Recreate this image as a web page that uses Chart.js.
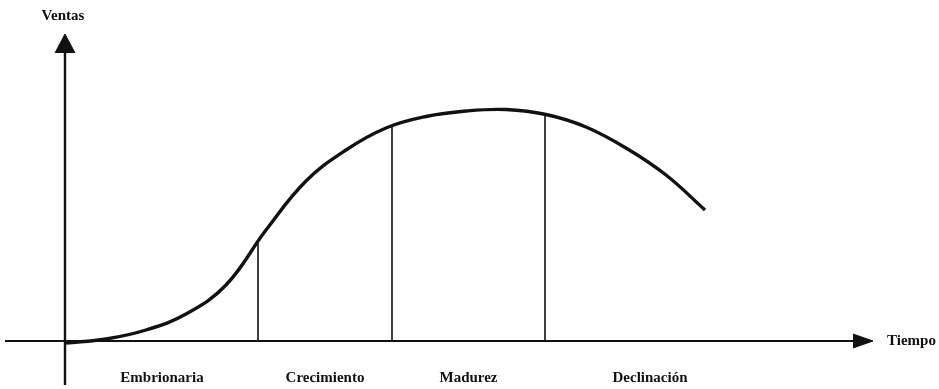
<!DOCTYPE html>
<html>
<head>
<meta charset="utf-8">
<script src="https://cdn.jsdelivr.net/npm/chart.js@4/dist/chart.umd.min.js"></script>
<style>
  html, body { margin: 0; padding: 0; background: #fff; }
  #wrap { width: 939px; height: 389px; }
</style>
</head>
<body>
<div id="wrap"><canvas id="grafico" width="939" height="389"></canvas></div>
<script>
// curva del ciclo de vida (tiempo, ventas)
const tiempo = [0, 40, 80, 120, 160, 200, 240, 280, 320, 360, 400, 440, 480, 520, 560, 600, 639];
const ventas = [-2, 2, 11, 27, 56, 111, 160, 191, 213, 224.5, 230, 231.5, 226.5, 214, 193, 166, 131];

// limites de las etapas y altura de la curva en cada limite
const limites = [0, 192, 326, 479, 689];
const alturaLimite = [99, 215, 227];
const etapas = ['Embrionaria', 'Crecimiento', 'Madurez', 'Declinación'];

// ejes
const ejeY = [-44, 288];
const ejeX = [-61, 787];
const flechaY = [[-11, 288], [-1, 307], [9, 288]];
const flechaX = [[787, 7], [807, 0], [787, -7]];

const tituloY = 'Ventas';
const tituloX = 'Tiempo';

function puntos(xs, ys) {
    return xs.map((x, i) => ({x: x, y: ys[i]}));
}

const datasets = [];

// curva
datasets.push({
    data: puntos(tiempo, ventas),
    borderColor: '#111',
    borderWidth: 3.4,
    tension: 0.4
});

// lineas verticales de las etapas
alturaLimite.forEach((h, i) => {
    datasets.push({
        data: [{x: limites[i + 1], y: 0}, {x: limites[i + 1], y: h}],
        borderColor: '#111',
        borderWidth: 1.6
    });
});

// eje vertical y horizontal
datasets.push({
    data: [{x: -1, y: ejeY[0]}, {x: -1, y: ejeY[1]}],
    borderColor: '#111',
    borderWidth: 2.4
});
datasets.push({
    data: [{x: ejeX[0], y: 0}, {x: ejeX[1], y: 0}],
    borderColor: '#111',
    borderWidth: 2
});

// puntas de flecha
[flechaY, flechaX].forEach(f => {
    datasets.push({
        data: f.map(p => ({x: p[0], y: p[1]})),
        borderColor: '#111',
        backgroundColor: '#111',
        borderWidth: 1,
        fill: 'shape',
        tension: 0
    });
});

const textos = {
    id: 'textos',
    afterDraw(chart) {
        const ctx = chart.ctx;
        const x = chart.scales.x;
        const y = chart.scales.y;
        ctx.save();
        ctx.fillStyle = '#111';
        ctx.textBaseline = 'middle';
        ctx.font = 'bold 15px "Liberation Serif", "DejaVu Serif", serif';
        ctx.textAlign = 'center';
        etapas.forEach((e, i) => {
            const medio = (limites[i] + limites[i + 1]) / 2;
            ctx.fillText(e, x.getPixelForValue(medio), y.getPixelForValue(-37));
        });
        ctx.fillText(tituloY, x.getPixelForValue(-3), y.getPixelForValue(325));
        ctx.textAlign = 'left';
        ctx.fillText(tituloX, x.getPixelForValue(821), y.getPixelForValue(0));
        ctx.restore();
    }
};

new Chart(document.getElementById('grafico'), {
    type: 'scatter',
    data: {datasets: datasets.map(d => Object.assign({showLine: true, pointRadius: 0, fill: false}, d))},
    options: {
        responsive: false,
        animation: false,
        devicePixelRatio: 1,
        layout: {padding: 0},
        plugins: {
            legend: {display: false},
            tooltip: {enabled: false}
        },
        scales: {
            x: {type: 'linear', display: false, min: -66, max: 873},
            y: {type: 'linear', display: false, min: -48, max: 341}
        }
    },
    plugins: [textos]
});
</script>
</body>
</html>
